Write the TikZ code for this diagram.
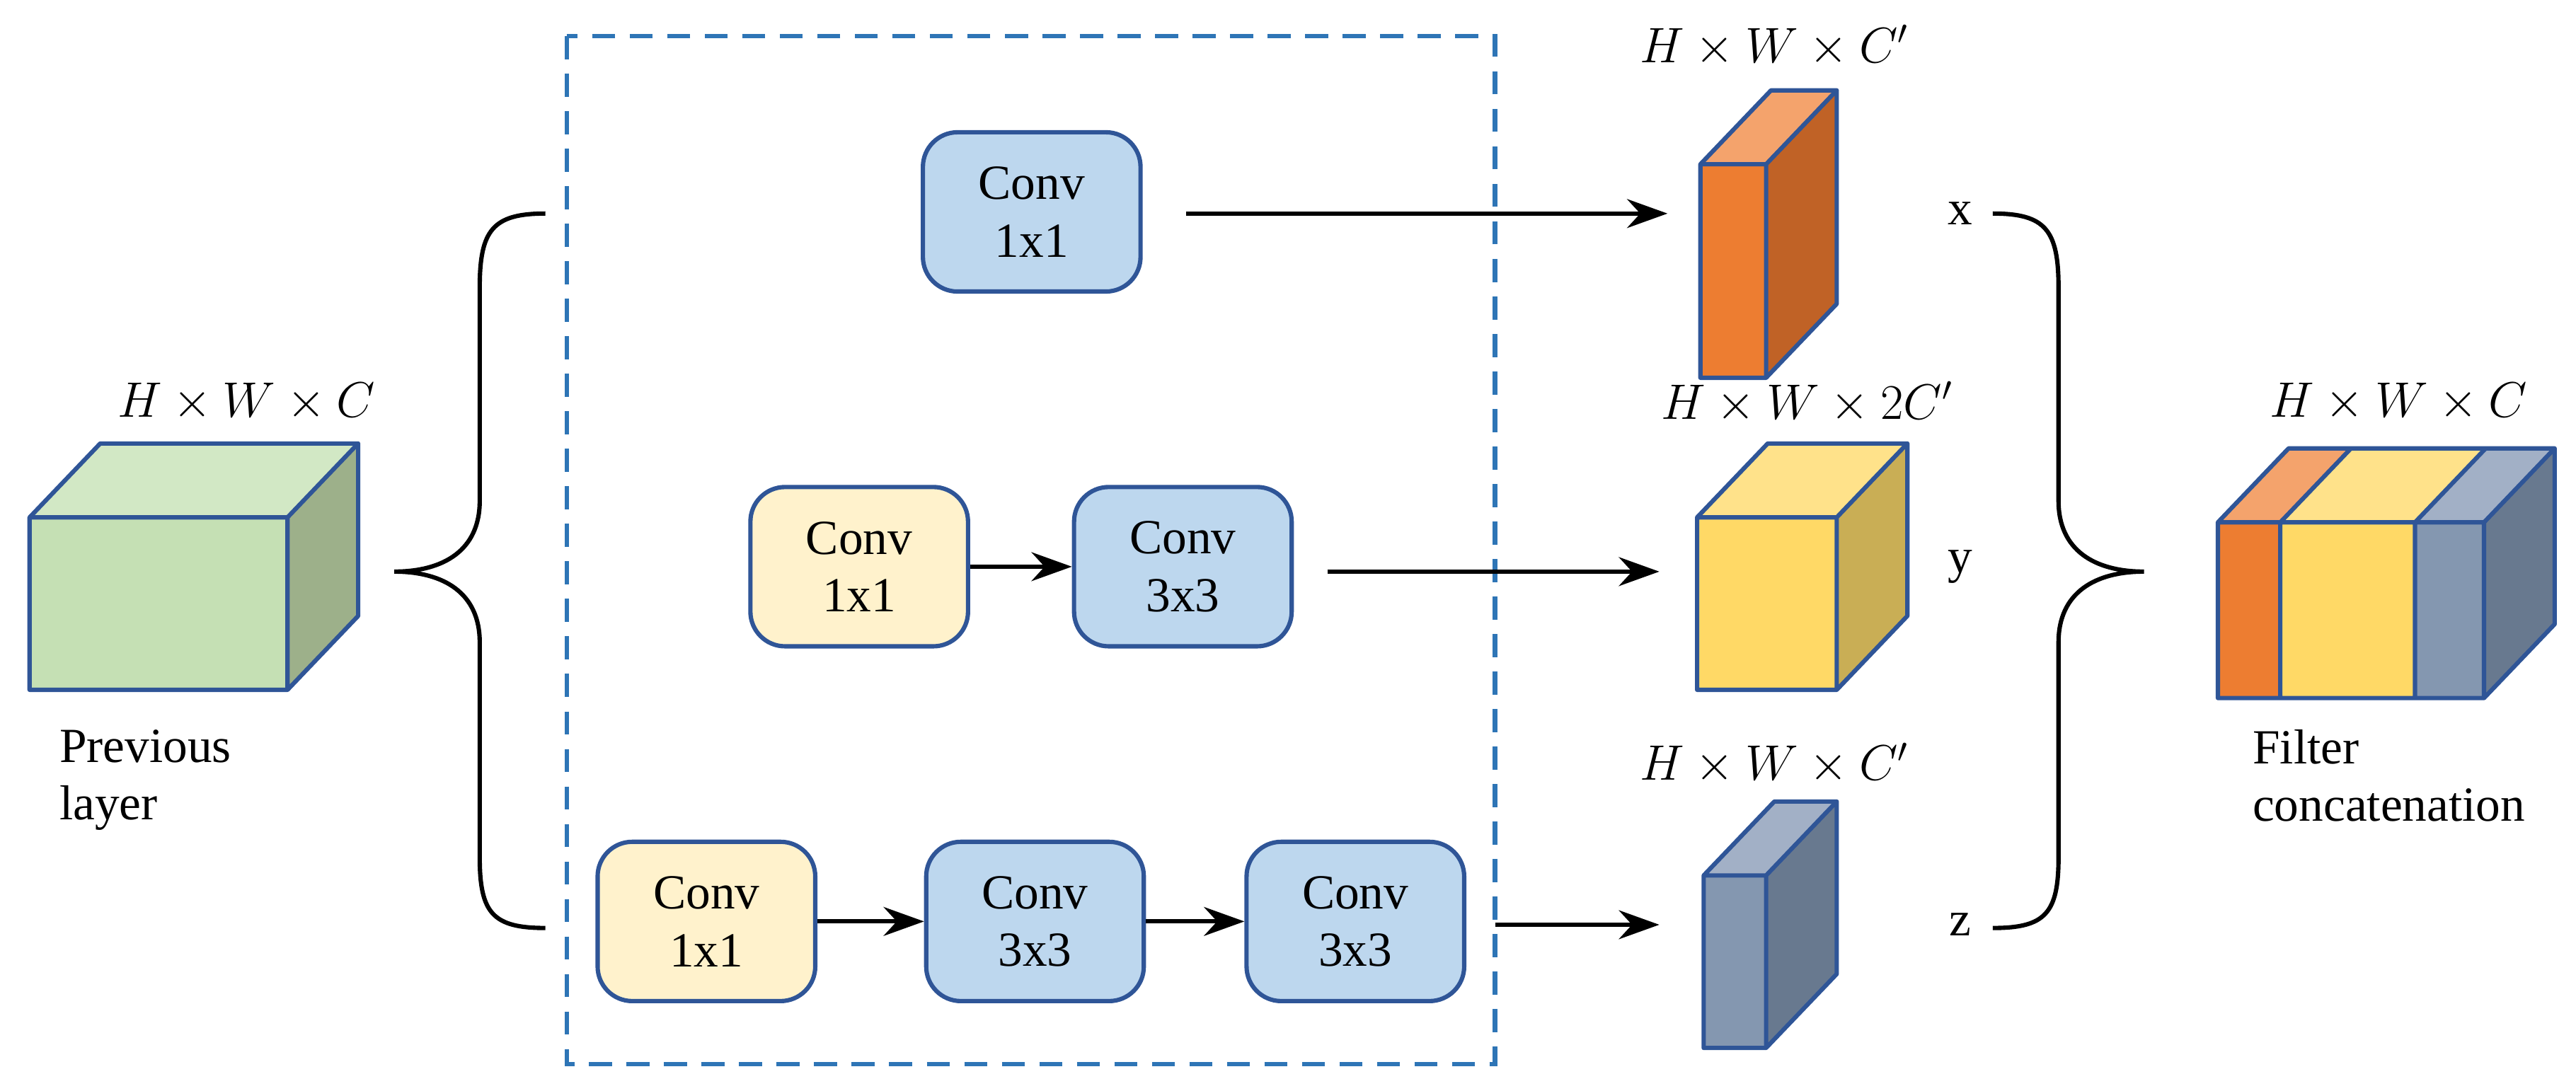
\documentclass[tikz,border=0pt]{standalone}
\usepackage{fontspec}
\setmainfont{Liberation Serif}
\usetikzlibrary{arrows.meta}
\definecolor{edge}{HTML}{2F5597}
\definecolor{cblue}{HTML}{BDD7EE}
\definecolor{cyel}{HTML}{FFF2CC}
\definecolor{dashblue}{HTML}{2E75B6}
\definecolor{gF}{HTML}{C5E0B4}\definecolor{gT}{HTML}{D2E8C5}\definecolor{gS}{HTML}{9DB08A}
\definecolor{oF}{HTML}{ED7D31}\definecolor{oT}{HTML}{F4A36C}\definecolor{oS}{HTML}{C06226}
\definecolor{yF}{HTML}{FFD966}\definecolor{yT}{HTML}{FFE28A}\definecolor{yS}{HTML}{C9AE55}
\definecolor{bF}{HTML}{8497B0}\definecolor{bT}{HTML}{A2B0C6}\definecolor{bS}{HTML}{68798F}
\newcommand\mycube[7]{% x y w h front top side
  \fill[#5] (#1,#2) rectangle ++(#3,#4);
  \fill[#6] (#1,#2) -- ++(43,-45) -- ++(#3,0) -- ++(-43,45) -- cycle;
  \fill[#7] (#1+#3,#2) -- ++(43,-45) -- ++(0,#4) -- ++(-43,45) -- cycle;
  \draw[edge,line width=1.5pt,line join=round] (#1,#2) rectangle ++(#3,#4)
    (#1,#2) -- ++(43,-45) -- ++(#3,0) -- ++(0,#4) -- ++(-43,45)
    (#1+#3,#2) -- ++(43,-45);}
\tikzset{
  conv/.style={draw=edge,line width=1.5pt,rounded corners=12pt,minimum width=2.65cm,minimum height=1.94cm,align=center,font=\fontsize{17}{20}\selectfont},
  cb/.style={conv,fill=cblue}, cy/.style={conv,fill=cyel},
  arr/.style={-{Stealth[length=14pt,width=10pt]},line width=1.5pt},
  lbl/.style={font=\fontsize{17}{20}\selectfont},
  brace/.style={line width=1.5pt}
}
\begin{document}
\begin{tikzpicture}[x=0.02cm,y=-0.02cm]
\useasboundingbox (0,0) rectangle (1568,664);
\draw[dashblue,line width=1.5pt,dash pattern=on 8pt off 5pt] (345,22) rectangle (910,648);
\mycube{18}{315}{157}{105}{gF}{gT}{gS}
\node[lbl] at (150,245) {$H\times W\times C$};
\node[lbl,align=left,anchor=north west] at (30,438) {Previous\\layer};
\draw[brace] (332,130) .. controls (300,130) and (292,140) .. (292,175) -- (292,305) .. controls (292,335) and (270,348) .. (240,348)
  .. controls (270,348) and (292,361) .. (292,391) -- (292,522) .. controls (292,556) and (300,565) .. (332,565);
\node[cb] (a1) at (628,129) {Conv\\1x1};
\node[cy] (b1) at (523,345) {Conv\\1x1};
\node[cb] (b2) at (720,345) {Conv\\3x3};
\node[cy] (c1) at (430,561) {Conv\\1x1};
\node[cb] (c2) at (630,561) {Conv\\3x3};
\node[cb] (c3) at (825,561) {Conv\\3x3};
\draw[arr] (b1) -- (b2);
\draw[arr] (c1) -- (c2);
\draw[arr] (c2) -- (c3);
\mycube{1035}{100}{40}{130}{oF}{oT}{oS}
\mycube{1033}{315}{85}{105}{yF}{yT}{yS}
\mycube{1037}{533}{38}{105}{bF}{bT}{bS}
\coordinate (o1) at (1015,130);
\coordinate (o2) at (1010,348);
\coordinate (o3) at (1010,563);
\coordinate (s1) at (722,130);
\coordinate (s2) at (808,348);
\coordinate (s3) at (910,563);
\draw[arr] (s1) -- (o1);
\draw[arr] (s2) -- (o2);
\draw[arr] (s3) -- (o3);
\node[lbl] at (1080,28) {$H\times W\times C'$};
\node[lbl] at (1100,245) {$H\times W\times 2C'$};
\node[lbl] at (1080,465) {$H\times W\times C'$};
\node[lbl] at (1193,130) {x};
\node[lbl] at (1193,345) {y};
\node[lbl] at (1193,563) {z};
\draw[brace] (1213,130) .. controls (1245,130) and (1253,140) .. (1253,175) -- (1253,305) .. controls (1253,335) and (1275,348) .. (1305,348)
  .. controls (1275,348) and (1253,361) .. (1253,391) -- (1253,522) .. controls (1253,556) and (1245,565) .. (1213,565);
\fill[oF] (1350,318) rectangle (1388,425);
\fill[yF] (1388,318) rectangle (1470,425);
\fill[bF] (1470,318) rectangle (1512,425);
\fill[oT] (1350,318) -- (1393,273) -- (1431,273) -- (1388,318) -- cycle;
\fill[yT] (1388,318) -- (1431,273) -- (1513,273) -- (1470,318) -- cycle;
\fill[bT] (1470,318) -- (1513,273) -- (1555,273) -- (1512,318) -- cycle;
\fill[bS] (1512,318) -- (1555,273) -- (1555,380) -- (1512,425) -- cycle;
\draw[edge,line width=1.5pt,line join=round] (1350,318) rectangle (1512,425)
  (1350,318) -- (1393,273) -- (1555,273) -- (1555,380) -- (1512,425)
  (1512,318) -- (1555,273)
  (1388,425) -- (1388,318) -- (1431,273)
  (1470,425) -- (1470,318) -- (1513,273);
\node[lbl] at (1460,245) {$H\times W\times C$};
\node[lbl,align=left,anchor=north west] at (1365,438) {Filter\\concatenation};
\end{tikzpicture}
\end{document}
